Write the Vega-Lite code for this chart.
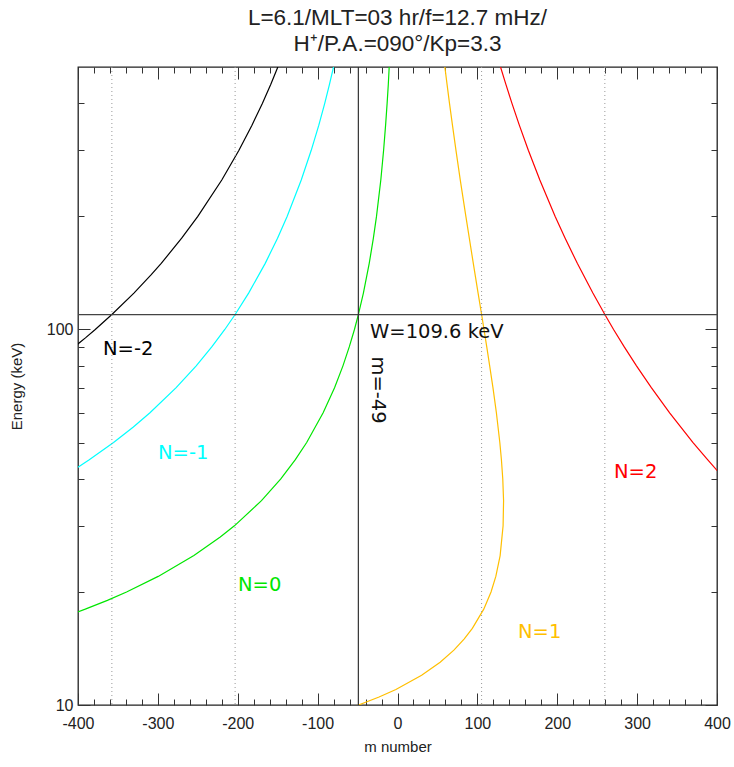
{
  "$schema": "https://vega.github.io/schema/vega-lite/v6.json",
  "width": 639,
  "height": 638,
  "autosize": {"type": "none"},
  "padding": {"left": 78, "top": 67, "right": 17, "bottom": 62},
  "background": "white",
  "title": {
    "text": ["L=6.1/MLT=03 hr/f=12.7 mHz/", "H⁺/P.A.=090°/Kp=3.3"],
    "font": "Liberation Sans",
    "fontSize": 22.5,
    "fontWeight": "normal",
    "color": "#222",
    "lineHeight": 26,
    "offset": 11,
    "anchor": "middle"
  },
  "config": {
    "view": {"stroke": "#222", "strokeWidth": 1.3},
    "axis": {"grid": false, "domain": false, "tickColor": "#333", "tickWidth": 1, "labelFont": "Liberation Sans", "labelFontSize": 16, "labelColor": "#222", "titleFont": "Liberation Sans", "titleFontSize": 15, "titleFontWeight": "normal", "titleColor": "#222", "labelOverlap": false, "labelFlush": false}
  },
  "datasets": {
    "curves": [
      {"N": "-2", "W": 88, "m": -410.1}, {"N": "-2", "W": 90, "m": -404.3}, {"N": "-2", "W": 95, "m": -390.7}, {"N": "-2", "W": 100, "m": -378.4}, {"N": "-2", "W": 109.6, "m": -357.6}, {"N": "-2", "W": 125, "m": -330.0}, {"N": "-2", "W": 140, "m": -308.3}, {"N": "-2", "W": 150, "m": -295.8}, {"N": "-2", "W": 175, "m": -270.2}, {"N": "-2", "W": 200, "m": -250.0}, {"N": "-2", "W": 250, "m": -220.0}, {"N": "-2", "W": 300, "m": -198.5}, {"N": "-2", "W": 350, "m": -182.2}, {"N": "-2", "W": 400, "m": -169.2}, {"N": "-2", "W": 450, "m": -158.6}, {"N": "-2", "W": 500, "m": -149.8},
      {"N": "-1", "W": 42, "m": -407.6}, {"N": "-1", "W": 43, "m": -400.0}, {"N": "-1", "W": 45, "m": -385.9}, {"N": "-1", "W": 50, "m": -355.5}, {"N": "-1", "W": 55, "m": -330.7}, {"N": "-1", "W": 60, "m": -309.9}, {"N": "-1", "W": 70, "m": -277.1}, {"N": "-1", "W": 80, "m": -252.0}, {"N": "-1", "W": 90, "m": -232.3}, {"N": "-1", "W": 100, "m": -216.2}, {"N": "-1", "W": 109.6, "m": -203.3}, {"N": "-1", "W": 125, "m": -186.4}, {"N": "-1", "W": 150, "m": -165.6}, {"N": "-1", "W": 175, "m": -150.2}, {"N": "-1", "W": 200, "m": -138.2}, {"N": "-1", "W": 250, "m": -120.5}, {"N": "-1", "W": 300, "m": -108.0}, {"N": "-1", "W": 350, "m": -98.5}, {"N": "-1", "W": 400, "m": -91.1}, {"N": "-1", "W": 450, "m": -85.1}, {"N": "-1", "W": 500, "m": -80.1},
      {"N": "0", "W": 17.5, "m": -406.4}, {"N": "0", "W": 18, "m": -390.9}, {"N": "0", "W": 19, "m": -363.2}, {"N": "0", "W": 20, "m": -339.2}, {"N": "0", "W": 22, "m": -299.6}, {"N": "0", "W": 25, "m": -254.9}, {"N": "0", "W": 28, "m": -221.9}, {"N": "0", "W": 30, "m": -204.2}, {"N": "0", "W": 35, "m": -170.3}, {"N": "0", "W": 40, "m": -146.1}, {"N": "0", "W": 45, "m": -127.9}, {"N": "0", "W": 50, "m": -113.7}, {"N": "0", "W": 60, "m": -93.1}, {"N": "0", "W": 70, "m": -78.8}, {"N": "0", "W": 80, "m": -68.3}, {"N": "0", "W": 90, "m": -60.3}, {"N": "0", "W": 100, "m": -53.9}, {"N": "0", "W": 109.6, "m": -49.0}, {"N": "0", "W": 125, "m": -42.7}, {"N": "0", "W": 150, "m": -35.4}, {"N": "0", "W": 175, "m": -30.2}, {"N": "0", "W": 200, "m": -26.3}, {"N": "0", "W": 250, "m": -20.9}, {"N": "0", "W": 300, "m": -17.4}, {"N": "0", "W": 350, "m": -14.9}, {"N": "0", "W": 400, "m": -13.0}, {"N": "0", "W": 450, "m": -11.5}, {"N": "0", "W": 500, "m": -10.4},
      {"N": "1", "W": 9.8, "m": -60.7}, {"N": "1", "W": 10, "m": -48.8}, {"N": "1", "W": 10.5, "m": -23.1}, {"N": "1", "W": 11, "m": -2.0}, {"N": "1", "W": 12, "m": 30.2}, {"N": "1", "W": 13, "m": 53.4}, {"N": "1", "W": 14, "m": 70.6}, {"N": "1", "W": 15, "m": 83.6}, {"N": "1", "W": 16, "m": 93.7}, {"N": "1", "W": 18, "m": 108.0}, {"N": "1", "W": 20, "m": 117.1}, {"N": "1", "W": 22, "m": 123.1}, {"N": "1", "W": 25, "m": 128.5}, {"N": "1", "W": 30, "m": 132.2}, {"N": "1", "W": 35, "m": 132.8}, {"N": "1", "W": 40, "m": 131.8}, {"N": "1", "W": 45, "m": 130.1}, {"N": "1", "W": 50, "m": 128.1}, {"N": "1", "W": 60, "m": 123.8}, {"N": "1", "W": 70, "m": 119.5}, {"N": "1", "W": 80, "m": 115.4}, {"N": "1", "W": 90, "m": 111.7}, {"N": "1", "W": 100, "m": 108.3}, {"N": "1", "W": 109.6, "m": 105.3}, {"N": "1", "W": 125, "m": 100.9}, {"N": "1", "W": 150, "m": 94.9}, {"N": "1", "W": 175, "m": 89.9}, {"N": "1", "W": 200, "m": 85.6}, {"N": "1", "W": 250, "m": 78.6}, {"N": "1", "W": 300, "m": 73.2}, {"N": "1", "W": 350, "m": 68.8}, {"N": "1", "W": 400, "m": 65.1}, {"N": "1", "W": 450, "m": 62.0}, {"N": "1", "W": 500, "m": 59.3},
      {"N": "2", "W": 40, "m": 409.7}, {"N": "2", "W": 42, "m": 400.6}, {"N": "2", "W": 45, "m": 388.2}, {"N": "2", "W": 50, "m": 370.0}, {"N": "2", "W": 60, "m": 340.7}, {"N": "2", "W": 70, "m": 317.8}, {"N": "2", "W": 80, "m": 299.2}, {"N": "2", "W": 90, "m": 283.7}, {"N": "2", "W": 100, "m": 270.5}, {"N": "2", "W": 109.6, "m": 259.6}, {"N": "2", "W": 125, "m": 244.6}, {"N": "2", "W": 150, "m": 225.1}, {"N": "2", "W": 175, "m": 209.9}, {"N": "2", "W": 200, "m": 197.4}, {"N": "2", "W": 250, "m": 178.2}, {"N": "2", "W": 300, "m": 163.8}, {"N": "2", "W": 350, "m": 152.5}, {"N": "2", "W": 400, "m": 143.3}, {"N": "2", "W": 450, "m": 135.6}, {"N": "2", "W": 500, "m": 129.0}
    ],
    "crossings": [{"m": -357.6}, {"m": -203.3}, {"m": 105.3}, {"m": 259.6}],
    "energy": [{"W": 109.6}],
    "mode": [{"m": -49}],
    "labels": [
      {"label": "N=-2", "N": "-2", "m": -368.7, "W": 88.8},
      {"label": "N=-1", "N": "-1", "m": -299.8, "W": 46.9},
      {"label": "N=0", "N": "0", "m": -199.7, "W": 20.9},
      {"label": "N=1", "N": "1", "m": 150.9, "W": 15.6},
      {"label": "N=2", "N": "2", "m": 271, "W": 41.7},
      {"label": "W=109.6 keV", "N": "ref", "m": -34.4, "W": 98.5}
    ],
    "mlabel": [{"label": "m=-49", "N": "ref", "m": -24.4, "W": 69.0}]
  },
  "layer": [
    {
      "data": {"name": "curves"},
      "mark": {"type": "line", "clip": true, "strokeWidth": 1.2},
      "encoding": {
        "x": {"field": "m", "type": "quantitative", "scale": {"domain": [-400, 400], "nice": false, "zero": false},
          "axis": {"orient": "bottom", "values": [-400,-380,-360,-340,-320,-300,-280,-260,-240,-220,-200,-180,-160,-140,-120,-100,-80,-60,-40,-20,0,20,40,60,80,100,120,140,160,180,200,220,240,260,280,300,320,340,360,380,400],
            "labelExpr": "datum.value % 100 === 0 ? '' + datum.value : ''",
            "tickSize": {"condition": {"test": "datum.value % 100 === 0", "value": -12}, "value": -6},
            "labelPadding": 22, "title": "m number", "titlePadding": 2}},
        "y": {"field": "W", "type": "quantitative", "scale": {"type": "log", "domain": [10, 500], "nice": false},
          "axis": {"orient": "left", "values": [10,20,30,40,50,60,70,80,90,100,200,300,400],
            "labelExpr": "datum.value === 10 || datum.value === 100 ? '' + datum.value : ''",
            "tickSize": {"condition": {"test": "datum.value === 10 || datum.value === 100", "value": -12}, "value": -6},
            "labelPadding": 17, "title": "Energy (keV)", "titlePadding": 22}},
        "color": {"field": "N", "type": "nominal", "scale": {"domain": ["-2", "-1", "0", "1", "2", "ref"], "range": ["#000000", "#00ffff", "#00e600", "#ffbf00", "#ff0000", "#111111"]}, "legend": null},
        "order": {"field": "W", "type": "quantitative"}
      }
    },
    {
      "data": {"name": "crossings"},
      "mark": {"type": "rule", "color": "#999", "strokeDash": [1, 3], "strokeWidth": 1},
      "encoding": {
        "x": {"field": "m", "type": "quantitative",
          "axis": {"orient": "top", "values": [-400,-380,-360,-340,-320,-300,-280,-260,-240,-220,-200,-180,-160,-140,-120,-100,-80,-60,-40,-20,0,20,40,60,80,100,120,140,160,180,200,220,240,260,280,300,320,340,360,380,400],
            "labels": false, "title": null,
            "tickSize": {"condition": {"test": "datum.value % 100 === 0", "value": -12}, "value": -6}}}
      }
    },
    {
      "data": {"name": "energy"},
      "mark": {"type": "rule", "color": "#444", "strokeWidth": 1.2},
      "encoding": {
        "y": {"field": "W", "type": "quantitative",
          "axis": {"orient": "right", "values": [10,20,30,40,50,60,70,80,90,100,200,300,400],
            "labels": false, "title": null,
            "tickSize": {"condition": {"test": "datum.value === 10 || datum.value === 100", "value": -12}, "value": -6}}}
      }
    },
    {
      "data": {"name": "mode"},
      "mark": {"type": "rule", "color": "#333", "strokeWidth": 1.2},
      "encoding": {"x": {"field": "m", "type": "quantitative", "axis": null}}
    },
    {
      "data": {"name": "labels"},
      "mark": {"type": "text", "align": "left", "baseline": "middle", "font": "DejaVu Sans", "fontSize": 19.5},
      "encoding": {
        "x": {"field": "m", "type": "quantitative", "axis": null},
        "y": {"field": "W", "type": "quantitative", "axis": null},
        "text": {"field": "label"},
        "color": {"field": "N", "type": "nominal", "legend": null}
      }
    },
    {
      "data": {"name": "mlabel"},
      "mark": {"type": "text", "align": "center", "baseline": "middle", "angle": 90, "font": "DejaVu Sans", "fontSize": 19.5},
      "encoding": {
        "x": {"field": "m", "type": "quantitative", "axis": null},
        "y": {"field": "W", "type": "quantitative", "axis": null},
        "text": {"field": "label"},
        "color": {"field": "N", "type": "nominal", "legend": null}
      }
    }
  ],
  "resolve": {"axis": {"x": "independent", "y": "independent"}}
}
